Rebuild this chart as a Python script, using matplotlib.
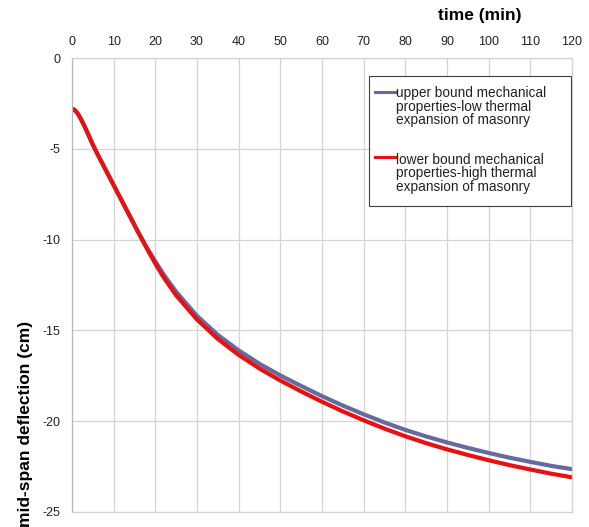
import matplotlib.pyplot as plt
from matplotlib.lines import Line2D
from matplotlib.patches import Rectangle

plt.rcParams['font.family'] = ['Liberation Sans', 'DejaVu Sans']
plt.rcParams['axes.unicode_minus'] = False

# mid-span deflection vs fire exposure time
time_min = [0, 0.5, 1, 1.5, 2, 3, 4, 5, 6, 8, 10, 12, 14, 16, 18, 20, 22, 25,
            30, 35, 40, 45, 50, 55, 60, 65, 70, 75, 80, 85, 90, 95, 100, 105,
            110, 115, 120]
upper_bound = [-2.8, -2.84, -2.95, -3.1, -3.3, -3.75, -4.25, -4.77, -5.24,
               -6.12, -7.0, -7.88, -8.76, -9.63, -10.45, -11.2, -11.92, -12.87,
               -14.2, -15.25, -16.1, -16.84, -17.48, -18.06, -18.62, -19.14,
               -19.62, -20.07, -20.48, -20.84, -21.17, -21.47, -21.75, -22.01,
               -22.24, -22.46, -22.64]
lower_bound = [-2.8, -2.84, -2.95, -3.1, -3.3, -3.75, -4.25, -4.77, -5.24,
               -6.12, -7.0, -7.88, -8.76, -9.65, -10.5, -11.32, -12.08, -13.07,
               -14.4, -15.47, -16.35, -17.1, -17.76, -18.36, -18.93, -19.46,
               -19.95, -20.41, -20.83, -21.21, -21.55, -21.86, -22.15, -22.42,
               -22.66, -22.89, -23.09]

labels = ["upper bound mechanical\nproperties-low thermal\nexpansion of masonry",
          "lower bound mechanical\nproperties-high thermal\nexpansion of masonry"]
colors = ["#676a9c", "#e81010"]

fig = plt.figure(figsize=(5.89, 5.27), dpi=100)
ax = fig.add_axes([0.1222, 0.0285, 0.8489, 0.8614])

for ys, c in zip([upper_bound, lower_bound], colors):
    ax.plot(time_min, ys, color=c, lw=3.0, solid_capstyle='round',
            solid_joinstyle='round')

ax.set_xlim(0, 120)
ax.set_ylim(-25, 0)
ax.set_xticks(range(0, 121, 10))
ax.set_yticks(range(-25, 1, 5))
ax.xaxis.tick_top()
ax.tick_params(axis='both', length=0, labelsize=9, labelcolor='#222222')
ax.tick_params(axis='x', pad=7)
ax.tick_params(axis='y', pad=8)
ax.grid(True, color='#d4d4d4', lw=0.9)
for s in ax.spines.values():
    s.set_color('#d4d4d4')
    s.set_linewidth(0.9)
ax.spines['left'].set_color('#b8b8b8')

fig.text(0.815, 0.970, "time (min)", ha='center', va='center',
         fontsize=12.5, fontweight='bold')
fig.text(0.043, 0.196, "mid-span deflection (cm)", ha='center', va='center',
         rotation=90, fontsize=12.5, fontweight='bold')

# legend box drawn in axes coordinates
ax.add_patch(Rectangle((0.595, 0.674), 0.403, 0.2864, transform=ax.transAxes,
                       facecolor='white', edgecolor='#404040', lw=0.8, zorder=5))
handle_y = [0.9258, 0.7813]
text_y = [0.8927, 0.7460]
for lab, c, hy, ty in zip(labels, colors, handle_y, text_y):
    ax.add_line(Line2D([0.606, 0.647], [hy, hy], transform=ax.transAxes,
                       color=c, lw=2.2, zorder=6))
    ax.text(0.648, ty, lab, transform=ax.transAxes, ha='left', va='center',
            linespacing=0.95, fontsize=9.8, color='#222222', zorder=6)

fig.savefig("out.png", dpi=100)
